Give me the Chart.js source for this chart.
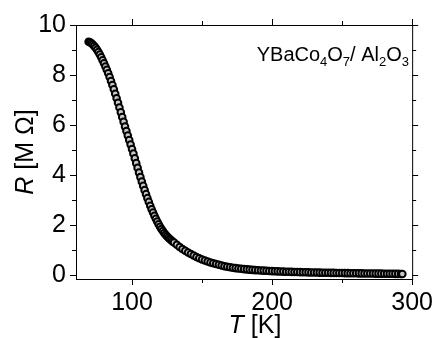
<!DOCTYPE html>
<html>
<head>
<meta charset="utf-8">
<script src="https://cdn.jsdelivr.net/npm/chart.js@4.4.1/dist/chart.umd.min.js"></script>
<style>
  html, body { margin: 0; padding: 0; background: #fff; }
</style>
</head>
<body>
<canvas id="chart" width="442" height="338"></canvas>
<script>
// temperature [K]
var temps = [69, 70, 71, 72, 73, 74, 75, 76, 77, 78, 79, 80, 81, 82, 83, 84, 85, 86, 87, 88, 89,
    90, 91, 92, 93, 94, 95, 96, 97, 98, 99, 100, 101, 102, 103, 104, 105, 106, 107, 108, 109,
    110, 111, 112, 113, 114, 115, 116, 117, 118, 119, 120, 121, 122, 123, 124, 125, 126, 127, 128, 129,
    130, 132, 134, 136, 138, 140, 142, 144, 146, 148, 150, 152, 154, 156, 158,
    160, 162, 164, 166, 168, 170, 172, 174, 176, 178, 180, 182, 184, 186, 188, 190, 192, 194, 196, 198,
    200, 202, 204, 206, 208, 210, 212, 214, 216, 218, 220, 222, 224, 226, 228, 230, 232, 234, 236, 238,
    240, 242, 244, 246, 248, 250, 252, 254, 256, 258, 260, 262, 264, 266, 268, 270, 272, 274, 276, 278,
    280, 282, 284, 286, 288, 290, 292, 293];
// resistance [M Ohm]
var resist = [9.33, 9.31, 9.27, 9.22, 9.16, 9.09, 9.01, 8.92, 8.82, 8.71, 8.59, 8.47, 8.34, 8.21, 8.07, 7.92, 7.76, 7.60, 7.43, 7.25, 7.07,
    6.89, 6.70, 6.51, 6.32, 6.13, 5.94, 5.76, 5.58, 5.40, 5.22, 5.04, 4.86, 4.67, 4.48, 4.29, 4.10, 3.92, 3.74, 3.57, 3.40,
    3.24, 3.08, 2.93, 2.78, 2.64, 2.51, 2.38, 2.26, 2.15, 2.04, 1.94, 1.85, 1.77, 1.69, 1.62, 1.56, 1.50, 1.45, 1.40, 1.35,
    1.31, 1.22, 1.13, 1.05, 0.98, 0.91, 0.85, 0.79, 0.73, 0.68, 0.63, 0.59, 0.55, 0.51, 0.48,
    0.45, 0.42, 0.39, 0.36, 0.34, 0.32, 0.30, 0.285, 0.27, 0.26, 0.245, 0.235, 0.225, 0.215, 0.205, 0.20, 0.19, 0.185, 0.178, 0.172,
    0.166, 0.16, 0.155, 0.15, 0.146, 0.142, 0.138, 0.134, 0.13, 0.127, 0.124, 0.121, 0.118, 0.115, 0.112, 0.11, 0.107, 0.105, 0.102, 0.10,
    0.098, 0.096, 0.094, 0.092, 0.09, 0.088, 0.086, 0.084, 0.082, 0.08, 0.078, 0.076, 0.074, 0.072, 0.071, 0.069, 0.067, 0.066, 0.064, 0.063,
    0.061, 0.06, 0.058, 0.057, 0.055, 0.054, 0.052, 0.051];

var xMajor = [100, 200, 300];
var xMinor = [150, 250];
var yMajor = [0, 2, 4, 6, 8, 10];
var yMinor = [1, 3, 5, 7, 9];

var FONT = '"Liberation Sans", Arial, sans-serif';

var points = temps.map(function (t, i) { return { x: t, y: resist[i] }; });

// frame, ticks on all sides, axis titles and the sample label
var decor = {
    id: 'decor',
    afterDraw: function (chart) {
        var ctx = chart.ctx;
        var a = chart.chartArea;
        var xs = chart.scales.x, ys = chart.scales.y;
        ctx.save();
        ctx.strokeStyle = '#000';
        ctx.lineWidth = 1;
        ctx.strokeRect(a.left + 0.5, a.top + 0.5, a.right - a.left, a.bottom - a.top);

        function vtick(v, len) {
            var px = Math.round(xs.getPixelForValue(v)) + 0.5;
            ctx.beginPath();
            ctx.moveTo(px, a.bottom); ctx.lineTo(px, a.bottom + len);
            ctx.moveTo(px, a.top); ctx.lineTo(px, a.top - len);
            ctx.stroke();
        }
        function htick(v, len) {
            var py = Math.round(ys.getPixelForValue(v)) + 0.5;
            ctx.beginPath();
            ctx.moveTo(a.left, py); ctx.lineTo(a.left - len, py);
            ctx.moveTo(a.right, py); ctx.lineTo(a.right + len, py);
            ctx.stroke();
        }
        xMajor.forEach(function (v) { vtick(v, 6); });
        xMinor.forEach(function (v) { vtick(v, 4); });
        yMajor.forEach(function (v) { htick(v, 6); });
        yMinor.forEach(function (v) { htick(v, 4); });

        ctx.fillStyle = '#000';
        ctx.textBaseline = 'alphabetic';

        // x title: T [K]
        var it = 'italic 25px ' + FONT, rm = '25px ' + FONT;
        ctx.font = it; var w1 = ctx.measureText('T').width;
        ctx.font = rm; var w2 = ctx.measureText(' [K]').width;
        var x0 = 255 - (w1 + w2) / 2;
        ctx.font = it; ctx.fillText('T', x0, 333);
        ctx.font = rm; ctx.fillText(' [K]', x0 + w1, 333);

        // y title: R [M Ω]
        ctx.save();
        ctx.translate(33, 152);
        ctx.rotate(-Math.PI / 2);
        ctx.font = it; w1 = ctx.measureText('R').width;
        ctx.font = rm; w2 = ctx.measureText(' [M \u03A9]').width;
        x0 = -(w1 + w2) / 2;
        ctx.font = it; ctx.fillText('R', x0, 0);
        ctx.font = rm; ctx.fillText(' [M \u03A9]', x0 + w1, 0);
        ctx.restore();

        // sample label with subscripts
        var parts = [['YBaCo', 0], ['4', 1], ['O', 0], ['7', 1], ['/ Al', 0], ['2', 1], ['O', 0], ['3', 1]];
        var big = '20px ' + FONT, small = '13px ' + FONT;
        var total = 0;
        parts.forEach(function (p) { ctx.font = p[1] ? small : big; total += ctx.measureText(p[0]).width; });
        var cx = 409 - total, base = 61;
        parts.forEach(function (p) {
            ctx.font = p[1] ? small : big;
            ctx.fillText(p[0], cx, p[1] ? base + 5 : base);
            cx += ctx.measureText(p[0]).width;
        });
        ctx.restore();
    }
};

var ctx = document.getElementById('chart').getContext('2d');
var chart = new Chart(ctx, {
    type: 'scatter',
    data: {
        datasets: [{
            label: 'R',
            data: points,
            showLine: true,
            borderColor: '#000',
            borderWidth: 2,
            pointRadius: 3.3,
            pointBorderWidth: 2,
            pointBorderColor: '#000',
            pointBackgroundColor: '#c8c8c8'
        }]
    },
    options: {
        responsive: false,
        animation: false,
        devicePixelRatio: 1,
        layout: { padding: { top: 25, right: 22, left: 0, bottom: 0 } },
        plugins: { legend: { display: false }, tooltip: { enabled: false } },
        scales: {
            x: {
                type: 'linear',
                min: 60,
                max: 300,
                afterBuildTicks: function (s) { s.ticks = xMajor.map(function (v) { return { value: v }; }); },
                afterFit: function (s) { s.height = 59; },
                grid: { display: false, drawTicks: false },
                border: { display: false },
                ticks: { color: '#000', padding: 9, font: { family: FONT, size: 25 }, maxRotation: 0 }
            },
            y: {
                type: 'linear',
                min: -0.15,
                max: 10,
                afterBuildTicks: function (s) { s.ticks = yMajor.map(function (v) { return { value: v }; }); },
                afterFit: function (s) { s.width = 76; },
                grid: { display: false, drawTicks: false },
                border: { display: false },
                ticks: { color: '#000', padding: 10, font: { family: FONT, size: 25 } }
            }
        }
    },
    plugins: [decor]
});
</script>
</body>
</html>
